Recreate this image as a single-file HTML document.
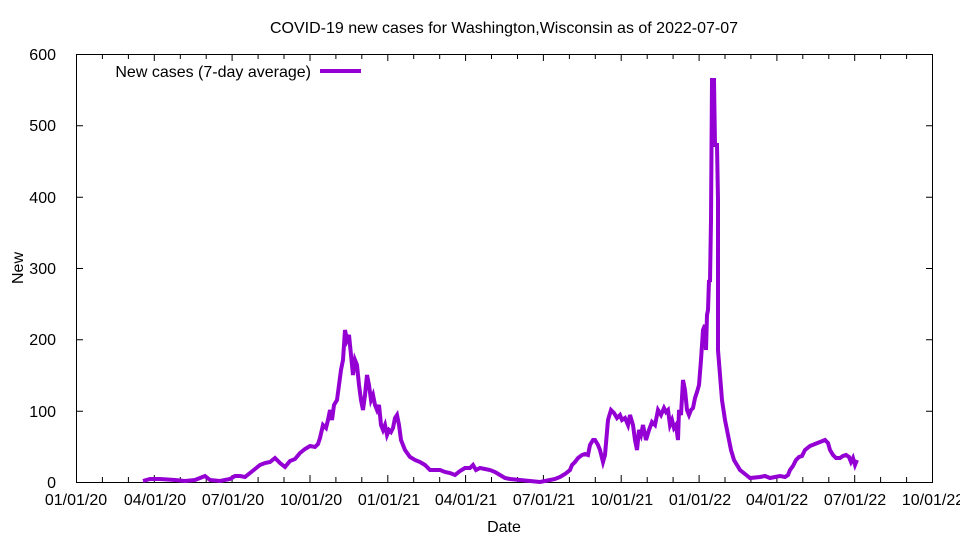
<!DOCTYPE html>
<html><head><meta charset="utf-8"><style>body{margin:0;background:#fff}</style></head><body>
<svg width="960" height="540" viewBox="0 0 960 540" xmlns="http://www.w3.org/2000/svg" font-family="Liberation Sans, sans-serif" font-size="16">
<rect width="960" height="540" fill="#fff"/>
<path stroke="#000" stroke-width="1" fill="none" d="M76,482.5h7M926,482.5h7M76,411.2h7M926,411.2h7M76,339.8h7M926,339.8h7M76,268.5h7M926,268.5h7M76,197.2h7M926,197.2h7M76,125.8h7M926,125.8h7M76,54.5h7M926,54.5h7
M76.5,482v-7M102.4,482v-5M128.4,482v-5M154.3,482v-7M180.3,482v-5M206.2,482v-5M232.1,482v-7M258.1,482v-5M284,482v-5M310,482v-7M335.9,482v-5M361.8,482v-5M387.8,482v-7M413.7,482v-5M439.7,482v-5M465.6,482v-7M491.5,482v-5M517.5,482v-5M543.4,482v-7M569.4,482v-5M595.3,482v-5M621.2,482v-7M647.2,482v-5M673.1,482v-5M699.1,482v-7M725,482v-5M750.9,482v-5M776.9,482v-7M802.8,482v-5M828.8,482v-5M854.7,482v-7M880.6,482v-5M906.6,482v-5M932.5,482v-7
M76.5,54v7M102.4,54v5M128.4,54v5M154.3,54v7M180.3,54v5M206.2,54v5M232.1,54v7M258.1,54v5M284,54v5M310,54v7M335.9,54v5M361.8,54v5M387.8,54v7M413.7,54v5M439.7,54v5M465.6,54v7M491.5,54v5M517.5,54v5M543.4,54v7M569.4,54v5M595.3,54v5M621.2,54v7M647.2,54v5M673.1,54v5M699.1,54v7M725,54v5M750.9,54v5M776.9,54v7M802.8,54v5M828.8,54v5M854.7,54v7M880.6,54v5M906.6,54v5M932.5,54v7"/>
<rect x="76.5" y="54.5" width="856" height="428" fill="none" stroke="#000"/>
<g text-anchor="end">
<text x="56" y="488">0</text><text x="56" y="417">100</text><text x="56" y="345">200</text><text x="56" y="274">300</text><text x="56" y="203">400</text><text x="56" y="131">500</text><text x="56" y="60">600</text>
</g>
<g text-anchor="middle">
<text x="76" y="505">01/01/20</text><text x="155" y="505">04/01/20</text><text x="233" y="505">07/01/20</text><text x="311" y="505">10/01/20</text><text x="389" y="505">01/01/21</text><text x="466" y="505">04/01/21</text><text x="544" y="505">07/01/21</text><text x="622" y="505">10/01/21</text><text x="700" y="505">01/01/22</text><text x="777" y="505">04/01/22</text><text x="855" y="505">07/01/22</text><text x="933" y="505">10/01/22</text>
<text x="504" y="532">Date</text>
<text x="504" y="33">COVID-19 new cases for Washington,Wisconsin as of 2022-07-07</text>
<text x="0" y="0" transform="translate(23,268) rotate(-90)">New</text>
</g>
<text x="311" y="77" text-anchor="end">New cases (7-day average)</text>
<line x1="320" y1="71" x2="361" y2="71" stroke="#9400d3" stroke-width="4"/>
<polyline fill="none" stroke="#9400d3" stroke-width="4" stroke-linejoin="miter" points="143,481 150,479 160,479 175,480 185,481 195,480 200,478 205,476 210,480 220,481 230,479 235,476 240,476 245,477 250,473 255,469 260,465 265,463 270,462 275,458 280,463 285,467 290,461 295,459 300,453 305,449 310,446 315,447 318,444 320,438 323,425 326,428 328,420 330,410 332,420 334,405 337,400 339,385 341,370 343,360 345,330 347,340 349,335 351,355 353,375 355,360 357,365 359,385 361,400 363,410 365,395 367,375 369,385 371,400 373,395 375,405 377,410 379,405 381,425 383,430 385,425 387,435 389,430 391,432 393,428 395,418 397,415 399,425 401,440 405,450 410,457 415,460 420,462 425,465 430,470 435,470 440,470 445,472 450,473 455,475 460,471 465,468 470,468 473,465 476,470 480,468 485,469 490,470 495,472 500,475 505,478 510,479 520,480 530,481 540,482 550,480 555,479 560,477 565,474 570,470 572,465 575,462 578,458 582,455 585,454 588,455 590,445 593,440 595,440 598,445 600,450 603,462 605,455 608,420 611,410 614,413 617,418 620,415 622,420 625,418 628,425 630,415 633,425 635,440 637,450 639,430 641,435 643,425 646,440 649,430 652,422 655,425 658,410 661,415 664,408 666,412 668,410 670,425 672,420 674,428 676,425 678,440 679,410 681,415 683,380 685,390 687,410 689,415 691,410 693,408 695,398 697,392 699,385 701,360 703,330 705,325 706,350 707,315 708,310 709,280 710,282 711,220 712,80 714,80 715,145 717,145 718,200 718,350 720,375 722,400 725,420 728,435 731,450 734,460 737,465 740,470 745,474 750,478 760,477 765,476 770,478 775,477 780,476 785,477 788,475 790,470 793,466 796,460 799,457 802,456 805,450 810,446 815,444 820,442 825,440 828,443 830,450 833,455 836,458 840,458 843,456 846,455 849,457 851,462 853,458 855,465 857,460"/>
</svg>
</body></html>
